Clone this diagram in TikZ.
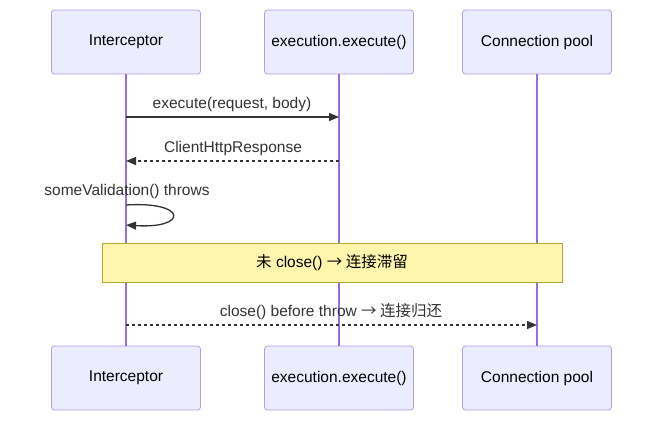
\documentclass[tikz,border=0pt]{standalone}
\usepackage{fontspec}
\setmainfont{Liberation Sans}
\newfontfamily\cjk{Noto Sans CJK SC}
\usepackage{tikz}
\usetikzlibrary{arrows.meta, positioning}
\definecolor{actorfill}{HTML}{ECECFF}
\definecolor{actorline}{HTML}{9370DB}
\definecolor{notefill}{HTML}{FFF5AD}
\definecolor{noteline}{HTML}{AAAA33}
\definecolor{msggray}{HTML}{333333}

\begin{document}
\begin{tikzpicture}[x=1pt, y=-1pt,
  font=\fontsize{15.5}{18}\selectfont,
  actor/.style={rectangle, rounded corners=3pt, draw=actorline!70, line width=0.8pt,
    fill=actorfill, minimum width=149pt, minimum height=64pt, inner sep=0pt,
    text=black},
  life/.style={actorline, line width=1.2pt},
  note/.style={rectangle, draw=noteline, line width=0.8pt, fill=notefill,
    minimum width=460pt, minimum height=39pt, inner sep=0pt},
  lbl/.style={text=msggray, inner sep=0pt},
  arr/.style={-{Triangle[length=10pt, width=8pt]}, msggray, line width=1.3pt},
  ret/.style={arr, dash pattern=on 3pt off 3pt}]
  \useasboundingbox (0,0) rectangle (669,426);
  % actors, top and bottom
  \node[actor] (ictop) at (126,42) {Interceptor};
  \node[actor] (extop) at (339,42) {execution.execute()};
  \node[actor] (cptop) at (537,42) {Connection pool};
  \node[actor] (icbot) at (126,378) {Interceptor};
  \node[actor] (exbot) at (339,378) {execution.execute()};
  \node[actor] (cpbot) at (537,378) {Connection pool};
  \draw[life] (ictop) -- (icbot);
  \draw[life] (extop) -- (exbot);
  \draw[life] (cptop) -- (cpbot);
  % message end points
  \coordinate (ic1) at (126,117);
  \coordinate (ex1) at (339,117);
  \coordinate (ex2) at (339,161);
  \coordinate (ic2) at (126,161);
  \coordinate (ic3a) at (126,205);
  \coordinate (ic3b) at (126,225);
  \coordinate (ic4) at (126,325);
  \coordinate (cp4) at (537,325);
  \draw[arr] (ic1) -- (ex1);
  \node[lbl] (m1) at (232,104) {execute(request, body)};
  \draw[ret] (ex2) -- (ic2);
  \node[lbl] (m2) at (233,148) {ClientHttpResponse};
  \draw[arr] (ic3a) .. controls (188,201) and (188,229) .. (ic3b);
  \node[lbl] (m3) at (127,191) {someValidation() throws};
  \node[note] (leak) at (332,263) {{\cjk 未} close() {\cjk → 连接滞留}};
  \draw[ret] (ic4) -- (cp4);
  \node[lbl] (m4) at (331,312) {close() before throw {\cjk → 连接归还}};
\end{tikzpicture}
\end{document}
